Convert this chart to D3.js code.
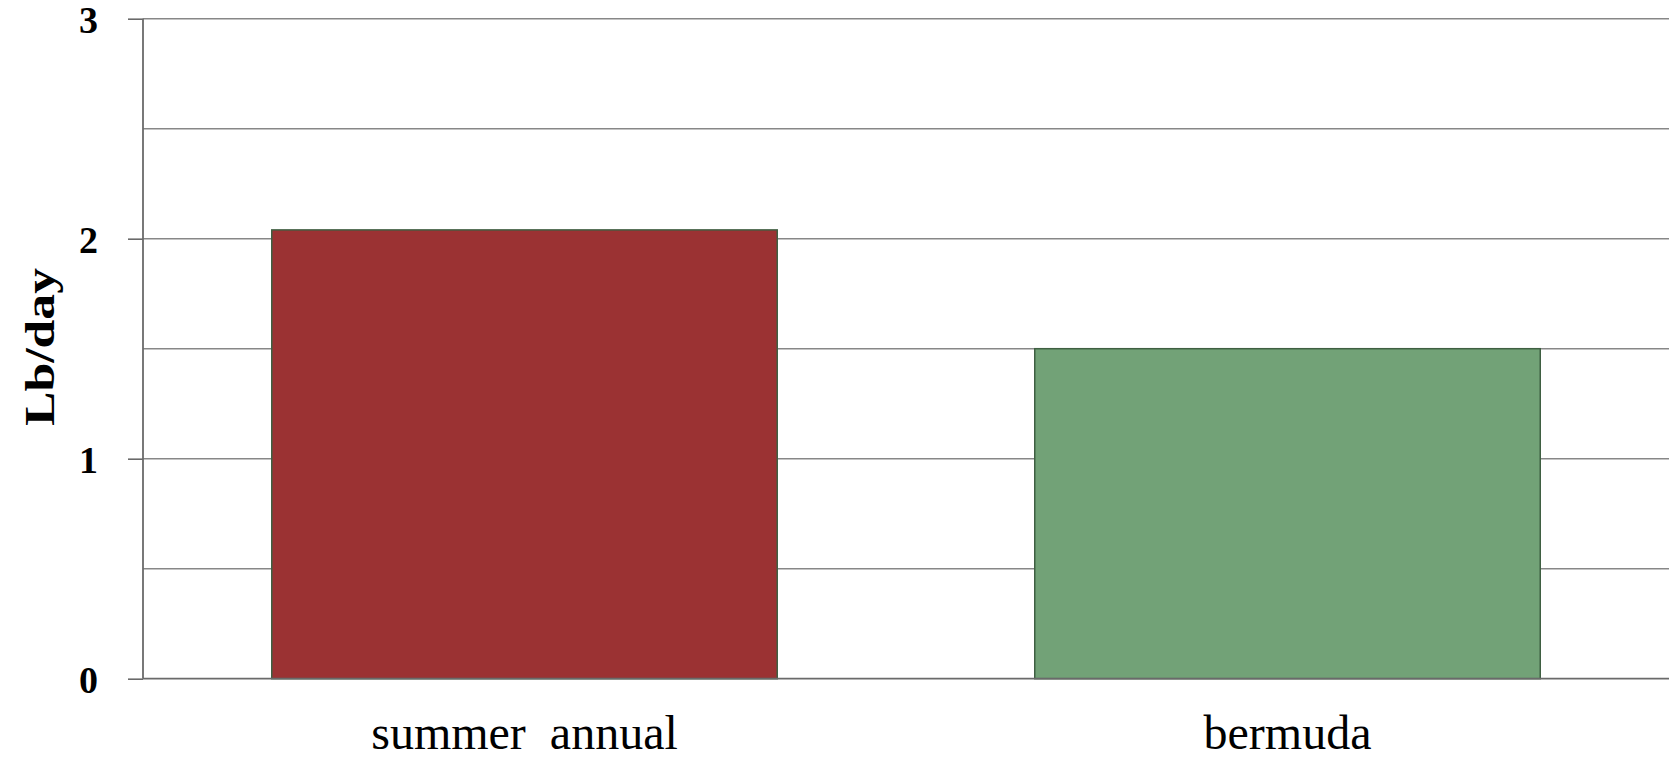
<!DOCTYPE html>
<html><head><meta charset="utf-8">
<script src="https://cdn.jsdelivr.net/npm/d3@7"></script>
<style>html,body{margin:0;padding:0;background:#fff;overflow:hidden}</style>
</head><body>
<svg id="chart" width="1669" height="761"></svg>
<script>
const categories = ["summer  annual", "bermuda"];
const values = [2.04, 1.5];
const colors = ["#9b3233", "#72a277"];
const yTicks = [0, 1, 2, 3];
const yGrid = [0.5, 1, 1.5, 2, 2.5, 3];
const yTitle = "Lb/day";

(function () {
const svg = d3.select("#chart");
const mLeft = 143, mRight = 1669, mTop = 18.7, mBottom = 678.7;

const x = d3.scaleBand().domain(categories).range([mLeft, mRight])
  .paddingInner(0.3375).paddingOuter(0.3375 / 2);
const y = d3.scaleLinear().domain([0, 3]).range([mBottom, mTop]);

// gridlines
svg.append("g").selectAll("line").data(yGrid).join("line")
  .attr("x1", mLeft).attr("x2", mRight)
  .attr("y1", d => y(d)).attr("y2", d => y(d))
  .attr("stroke", "#878787").attr("stroke-width", 1.6);

// bars
svg.append("g").selectAll("rect").data(categories).join("rect")
  .attr("x", d => x(d)).attr("width", x.bandwidth())
  .attr("y", (d, i) => y(values[i]))
  .attr("height", (d, i) => y(0) - y(values[i]))
  .attr("fill", (d, i) => colors[i])
  .attr("stroke", "#3f5f42").attr("stroke-width", 1.5);

// y axis
const yAxis = d3.axisLeft(y).tickValues(yTicks).tickSize(15).tickFormat(d3.format("d"));
const gy = svg.append("g").attr("transform", `translate(${mLeft},0)`).call(yAxis);
gy.select(".domain").attr("stroke", "#6a6a6a").attr("stroke-width", 1.8)
  .attr("d", `M0,${mTop}V${mBottom}`);
gy.selectAll(".tick line").attr("stroke", "#6a6a6a").attr("stroke-width", 1.6);
gy.selectAll(".tick text")
  .attr("x", -45).attr("dy", "0.36em")
  .attr("font-family", "'Liberation Serif', 'DejaVu Serif', serif")
  .attr("font-weight", "bold").attr("font-size", 38).attr("fill", "#000");

// baseline
svg.append("line").attr("x1", mLeft).attr("x2", mRight)
  .attr("y1", y(0)).attr("y2", y(0))
  .attr("stroke", "#6a6a6a").attr("stroke-width", 1.8);

// x axis labels
const xAxis = d3.axisBottom(x).tickSize(0);
const gx = svg.append("g").attr("transform", `translate(0,${mBottom})`).call(xAxis);
gx.select(".domain").remove();
gx.selectAll(".tick text")
  .attr("y", 70).attr("dy", 0)
  .attr("font-family", "'Liberation Serif', 'DejaVu Serif', serif")
  .attr("font-size", 48).attr("fill", "#000")
  .style("white-space", "pre");

// y title
svg.append("text")
  .attr("transform", `translate(54,${(268 + 426) / 2}) rotate(-90)`)
  .attr("text-anchor", "middle")
  .attr("font-family", "'Liberation Serif', 'DejaVu Serif', serif")
  .attr("font-weight", "bold").attr("font-size", 42)
  .attr("textLength", 158).attr("lengthAdjust", "spacingAndGlyphs")
  .text(yTitle);
})();
</script>
</body></html>
